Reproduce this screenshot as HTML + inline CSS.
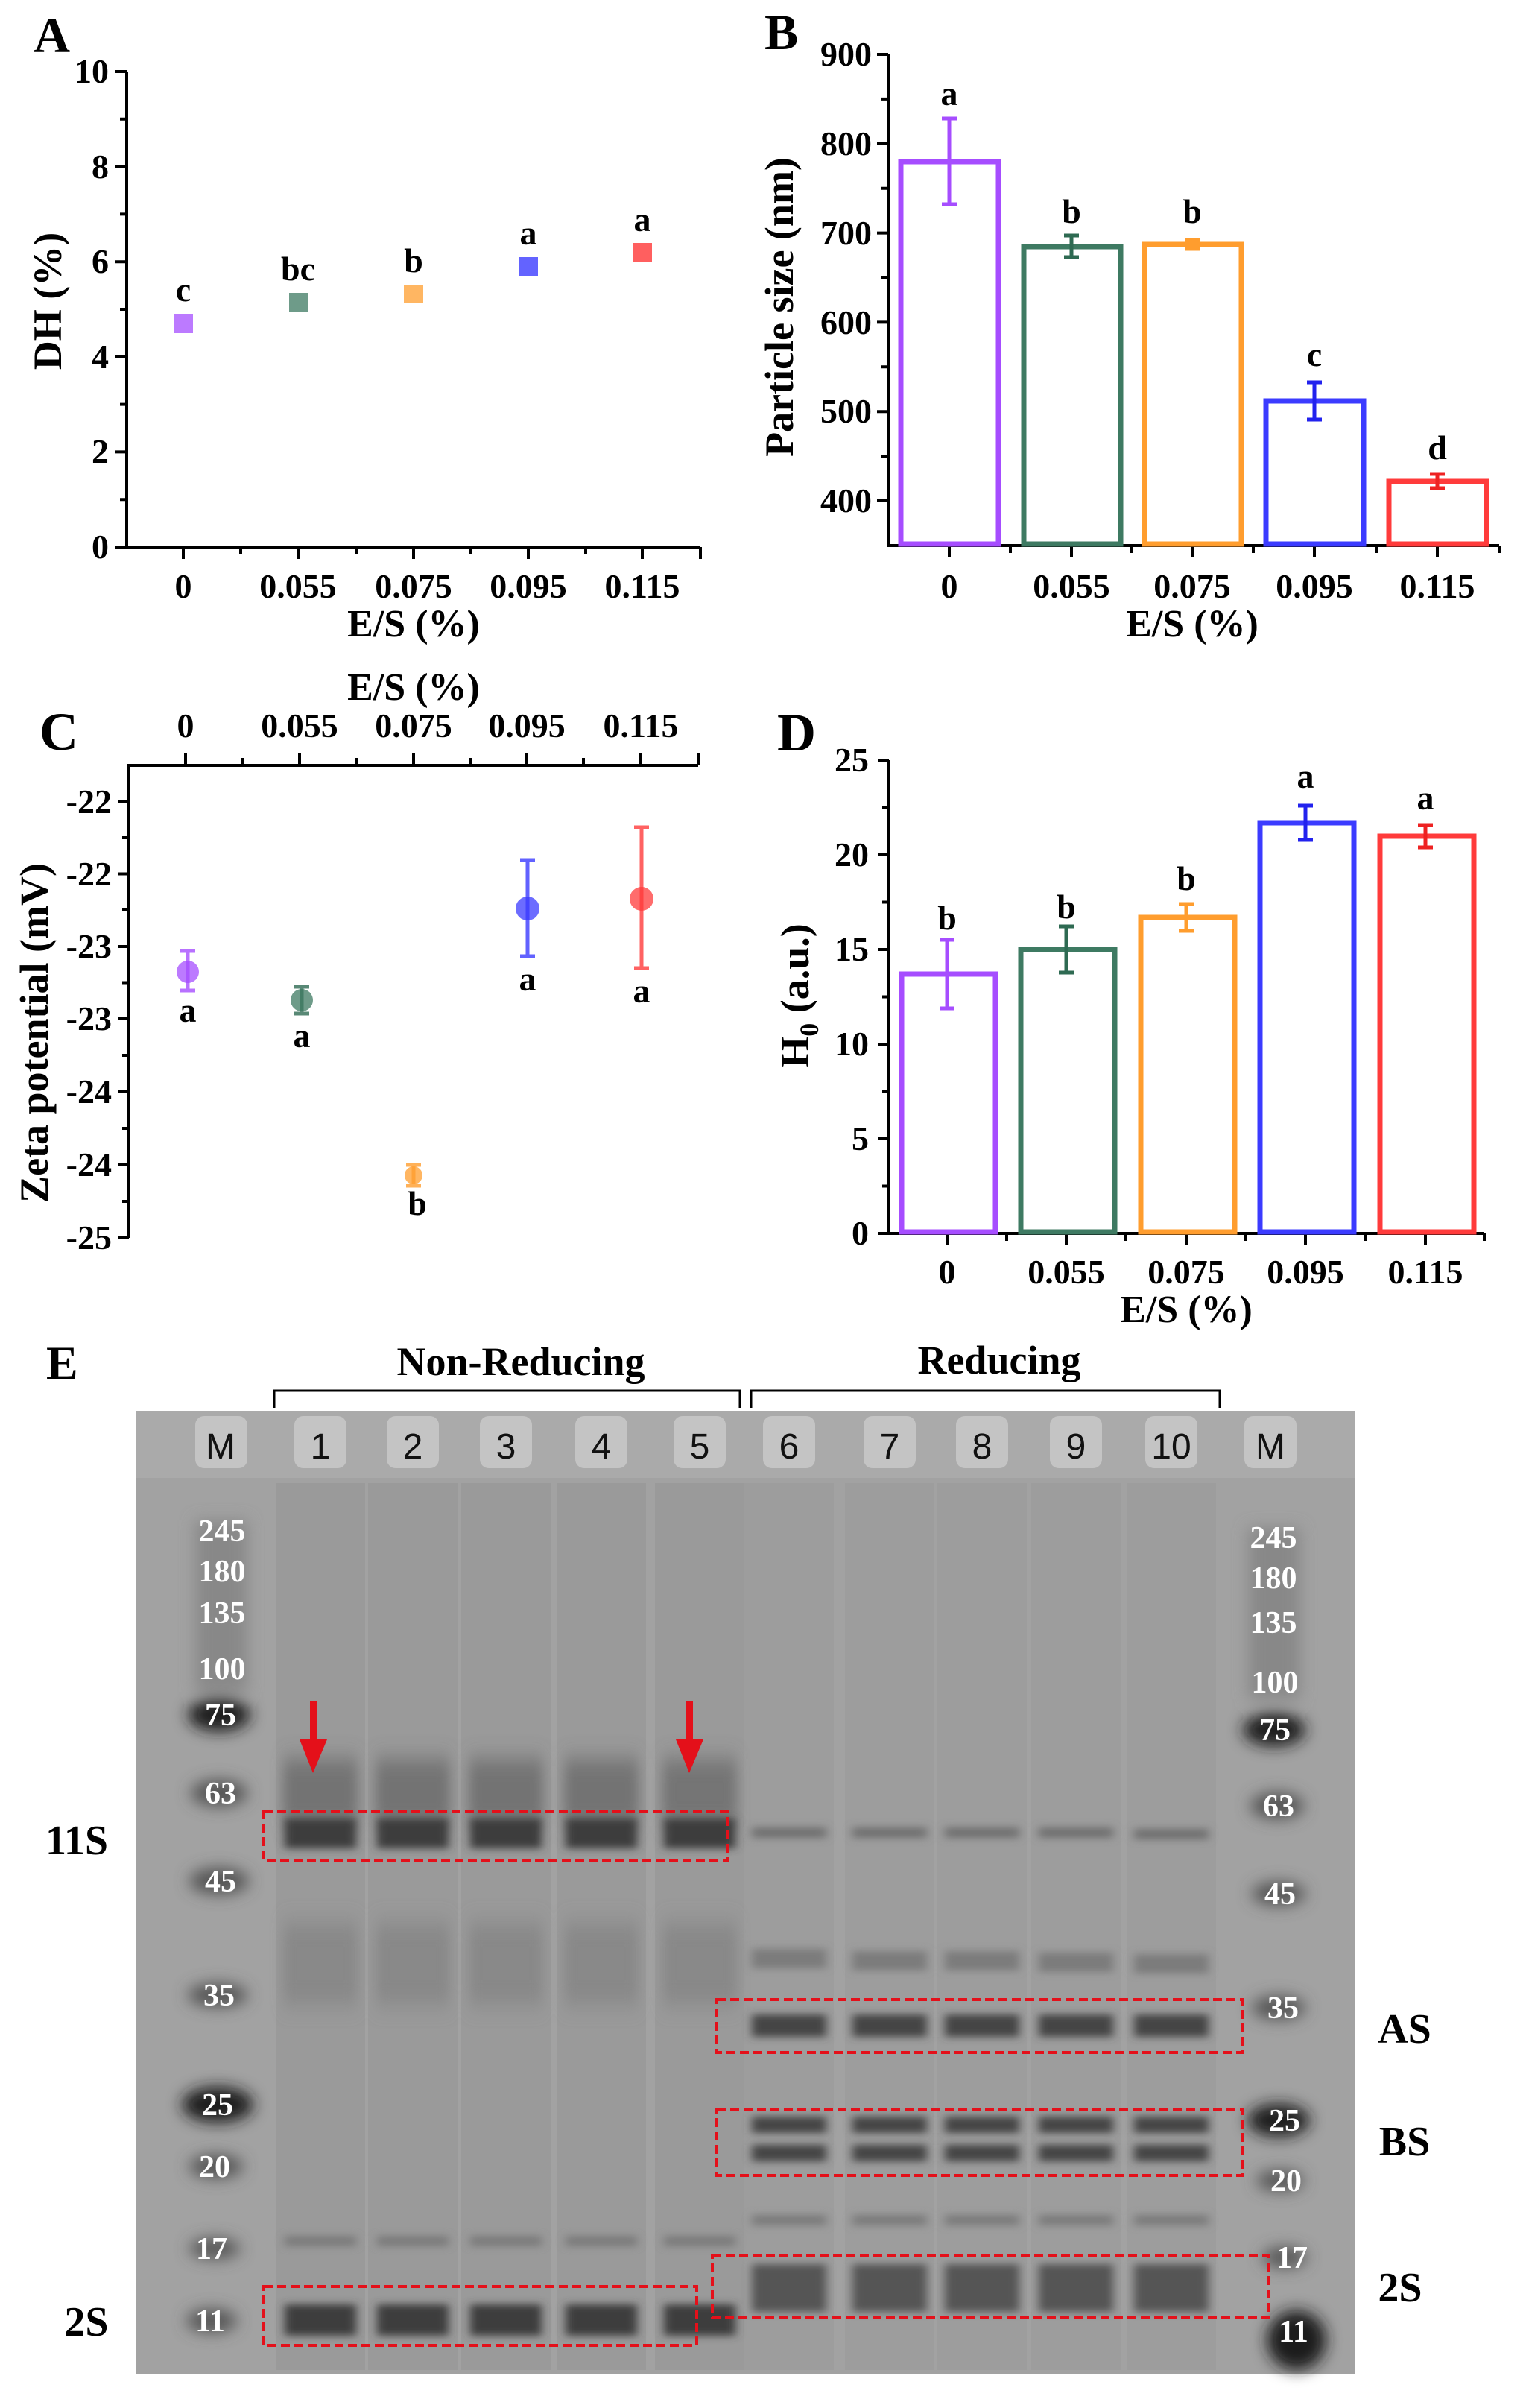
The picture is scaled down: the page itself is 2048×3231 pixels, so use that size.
<!DOCTYPE html>
<html><head><meta charset="utf-8"><style>
html,body{margin:0;padding:0;background:#fff}
svg{display:block}
text{font-family:"Liberation Serif",serif;font-weight:bold}
.sans{font-family:"Liberation Sans",sans-serif;font-weight:normal}
</style></head><body>
<svg width="2048" height="3231" viewBox="0 0 2048 3231" xmlns="http://www.w3.org/2000/svg">
<defs>
<filter id="b1" x="-20%" y="-200%" width="140%" height="500%"><feGaussianBlur stdDeviation="6 5"/></filter>
<filter id="b2" x="-20%" y="-50%" width="140%" height="200%"><feGaussianBlur stdDeviation="8 14"/></filter>
<filter id="b3" x="-20%" y="-20%" width="140%" height="140%"><feGaussianBlur stdDeviation="10"/></filter>
</defs>

<!-- ============ PANEL A ============ -->
<text x="45" y="70" font-size="68">A</text>
<g stroke="#000" stroke-width="4" fill="none">
<path d="M170 96 V734 H940"/>
<path d="M170 96 H155 M170 223.6 H155 M170 351.2 H155 M170 478.8 H155 M170 606.4 H155 M170 734 H155"/>
<path d="M170 159.8 H161 M170 287.4 H161 M170 415 H161 M170 542.6 H161 M170 670.2 H161"/>
<path d="M246 734 V750 M400 734 V750 M555 734 V750 M709 734 V750 M862 734 V750 M940 734 V750"/>
<path d="M323 734 V744 M478 734 V744 M632 734 V744 M786 734 V744"/>
</g>
<g font-size="46" text-anchor="end">
<text x="146" y="111">10</text><text x="146" y="239">8</text><text x="146" y="366">6</text><text x="146" y="494">4</text><text x="146" y="621">2</text><text x="146" y="749">0</text>
</g>
<g font-size="46" text-anchor="middle">
<text x="246" y="802">0</text><text x="400" y="802">0.055</text><text x="555" y="802">0.075</text><text x="709" y="802">0.095</text><text x="862" y="802">0.115</text>
<text x="555" y="854" font-size="52">E/S (%)</text>
</g>
<text transform="translate(82,404) rotate(-90)" font-size="54" text-anchor="middle">DH (%)</text>
<g opacity="0.75">
<rect x="233" y="421" width="26" height="26" fill="#a64dff"/>
<rect x="388" y="393" width="26" height="25" fill="#3e7a62"/>
<rect x="542" y="383" width="26" height="23" fill="#ff9d2e"/>
<rect x="696" y="345" width="26" height="25" fill="#2f2fff"/>
<rect x="849" y="326" width="26" height="25" fill="#ff2a2a"/>
</g>
<g font-size="46" text-anchor="middle">
<text x="246" y="404">c</text><text x="400" y="376">bc</text><text x="555" y="365">b</text><text x="709" y="328">a</text><text x="862" y="310">a</text>
</g>

<!-- ============ PANEL B ============ -->
<text x="1026" y="66" font-size="68">B</text>
<g stroke="#000" stroke-width="4" fill="none">
<path d="M1192 73 V732 H2012"/>
<path d="M1192 73 H1177 M1192 192.8 H1177 M1192 312.6 H1177 M1192 432.4 H1177 M1192 552.2 H1177 M1192 672 H1177"/>
<path d="M1192 132.9 H1183 M1192 252.7 H1183 M1192 372.5 H1183 M1192 492.3 H1183 M1192 612.1 H1183"/>
<path d="M1274 732 V748 M1438 732 V748 M1600 732 V748 M1764 732 V748 M1929 732 V748"/>
<path d="M1356 732 V742 M1519 732 V742 M1682 732 V742 M1847 732 V742 M2012 732 V742"/>
</g>
<g font-size="46" text-anchor="end">
<text x="1170" y="88">900</text><text x="1170" y="208">800</text><text x="1170" y="328">700</text><text x="1170" y="448">600</text><text x="1170" y="567">500</text><text x="1170" y="687">400</text>
</g>
<g font-size="46" text-anchor="middle">
<text x="1274" y="802">0</text><text x="1438" y="802">0.055</text><text x="1600" y="802">0.075</text><text x="1764" y="802">0.095</text><text x="1929" y="802">0.115</text>
<text x="1600" y="854" font-size="52">E/S (%)</text>
</g>
<text transform="translate(1064,412) rotate(-90)" font-size="54" text-anchor="middle">Particle size (nm)</text>
<g fill="none" stroke-width="7">
<rect x="1209" y="217" width="131" height="513" stroke="#a64dff"/>
<rect x="1374" y="331" width="130" height="399" stroke="#3e7a62"/>
<rect x="1536" y="328" width="130" height="402" stroke="#ff9d2e"/>
<rect x="1699" y="538" width="131" height="192" stroke="#3b3bff"/>
<rect x="1864" y="646" width="131" height="84" stroke="#ff3b3b"/>
</g>
<g stroke-width="5" fill="none">
<path d="M1274 159 V274 M1264 159 H1284 M1264 274 H1284" stroke="#a64dff"/>
<path d="M1438 316 V345 M1428 316 H1448 M1428 345 H1448" stroke="#2e6a52"/>
<path d="M1600 322 V334 M1590 322 H1610 M1590 334 H1610" stroke="#ff9d2e"/>
<path d="M1764 513 V563 M1754 513 H1774 M1754 563 H1774" stroke="#2222ee"/>
<path d="M1929 636 V655 M1919 636 H1939 M1919 655 H1939" stroke="#ee2222"/>
</g>
<g font-size="46" text-anchor="middle">
<text x="1274" y="141">a</text><text x="1438" y="299">b</text><text x="1600" y="299">b</text><text x="1764" y="491">c</text><text x="1929" y="616">d</text>
</g>

<!-- ============ PANEL C ============ -->
<text x="53" y="1006" font-size="72">C</text>
<g stroke="#000" stroke-width="4" fill="none">
<path d="M173 1661 V1027 H937"/>
<path d="M173 1075.5 H158 M173 1172.5 H158 M173 1270 H158 M173 1367 H158 M173 1465 H158 M173 1563 H158 M173 1661 H158"/>
<path d="M173 1124 H164 M173 1221 H164 M173 1318.5 H164 M173 1416 H164 M173 1514 H164 M173 1612 H164"/>
<path d="M249 1027 V1011 M402 1027 V1011 M555 1027 V1011 M707 1027 V1011 M860 1027 V1011 M937 1027 V1011"/>
<path d="M326 1027 V1017 M479 1027 V1017 M631 1027 V1017 M783 1027 V1017"/>
</g>
<g font-size="46" text-anchor="end">
<text x="150" y="1091">-22</text><text x="150" y="1188">-22</text><text x="150" y="1285">-23</text><text x="150" y="1382">-23</text><text x="150" y="1480">-24</text><text x="150" y="1578">-24</text><text x="150" y="1676">-25</text>
</g>
<g font-size="46" text-anchor="middle">
<text x="249" y="989">0</text><text x="402" y="989">0.055</text><text x="555" y="989">0.075</text><text x="707" y="989">0.095</text><text x="860" y="989">0.115</text>
<text x="555" y="939" font-size="52">E/S (%)</text>
</g>
<text transform="translate(64,1386) rotate(-90)" font-size="54" text-anchor="middle">Zeta potential (mV)</text>
<g stroke-width="5" fill="none" opacity="0.8">
<path d="M252 1276 V1329 M242 1276 H262 M242 1329 H262" stroke="#a64dff"/>
<path d="M405 1324 V1360 M395 1324 H415 M395 1360 H415" stroke="#2e6a52"/>
<path d="M555 1563 V1591 M545 1563 H565 M545 1591 H565" stroke="#ff9d2e"/>
<path d="M708 1154 V1283 M698 1154 H718 M698 1283 H718" stroke="#3b3bff"/>
<path d="M861 1110 V1299 M851 1110 H871 M851 1299 H871" stroke="#ff3b3b"/>
</g>
<g opacity="0.75">
<circle cx="252" cy="1304" r="15" fill="#a64dff"/>
<circle cx="405" cy="1342" r="15" fill="#3e7a62"/>
<ellipse cx="555" cy="1577" rx="12" ry="12" fill="#ff9d2e"/>
<circle cx="708" cy="1219" r="16" fill="#3b3bff"/>
<circle cx="861" cy="1206" r="16" fill="#ff3b3b"/>
</g>
<g font-size="46" text-anchor="middle">
<text x="252" y="1371">a</text><text x="405" y="1405">a</text><text x="560" y="1630">b</text><text x="708" y="1329">a</text><text x="861" y="1345">a</text>
</g>

<!-- ============ PANEL D ============ -->
<text x="1043" y="1007" font-size="72">D</text>
<g stroke="#000" stroke-width="4" fill="none">
<path d="M1193 1020 V1655 H1992"/>
<path d="M1193 1020 H1178 M1193 1147 H1178 M1193 1274 H1178 M1193 1401 H1178 M1193 1528 H1178 M1193 1655 H1178"/>
<path d="M1193 1083.5 H1184 M1193 1210.5 H1184 M1193 1337.5 H1184 M1193 1464.5 H1184 M1193 1591.5 H1184"/>
<path d="M1271 1655 V1671 M1431 1655 V1671 M1592 1655 V1671 M1752 1655 V1671 M1913 1655 V1671"/>
<path d="M1351 1655 V1665 M1511 1655 V1665 M1672 1655 V1665 M1832 1655 V1665 M1992 1655 V1665"/>
</g>
<g font-size="46" text-anchor="end">
<text x="1166" y="1035">25</text><text x="1166" y="1162">20</text><text x="1166" y="1289">15</text><text x="1166" y="1416">10</text><text x="1166" y="1543">5</text><text x="1166" y="1670">0</text>
</g>
<g font-size="46" text-anchor="middle">
<text x="1271" y="1722">0</text><text x="1431" y="1722">0.055</text><text x="1592" y="1722">0.075</text><text x="1752" y="1722">0.095</text><text x="1913" y="1722">0.115</text>
<text x="1592" y="1774" font-size="52">E/S (%)</text>
</g>
<text transform="translate(1085,1336) rotate(-90)" font-size="54" text-anchor="middle">H<tspan font-size="36" dy="13">0</tspan><tspan dy="-13"> (a.u.)</tspan></text>
<g fill="none" stroke-width="7">
<rect x="1210" y="1307" width="126" height="346" stroke="#a64dff"/>
<rect x="1370" y="1274" width="126" height="379" stroke="#3e7a62"/>
<rect x="1531" y="1231" width="126" height="422" stroke="#ff9d2e"/>
<rect x="1691" y="1104" width="126" height="549" stroke="#3b3bff"/>
<rect x="1852" y="1122" width="126" height="531" stroke="#ff3b3b"/>
</g>
<g stroke-width="5" fill="none">
<path d="M1271 1261 V1353 M1261 1261 H1281 M1261 1353 H1281" stroke="#a64dff"/>
<path d="M1431 1243 V1305 M1421 1243 H1441 M1421 1305 H1441" stroke="#2e6a52"/>
<path d="M1592 1213 V1249 M1582 1213 H1602 M1582 1249 H1602" stroke="#ff9d2e"/>
<path d="M1752 1081 V1127 M1742 1081 H1762 M1742 1127 H1762" stroke="#2222ee"/>
<path d="M1913 1107 V1137 M1903 1107 H1923 M1903 1137 H1923" stroke="#ee2222"/>
</g>
<g font-size="46" text-anchor="middle">
<text x="1271" y="1247">b</text><text x="1431" y="1232">b</text><text x="1592" y="1194">b</text><text x="1752" y="1057">a</text><text x="1913" y="1086">a</text>
</g>

<!-- ============ PANEL E ============ -->
<text x="62" y="1850" font-size="64">E</text>
<text x="699" y="1845" font-size="54" text-anchor="middle">Non-Reducing</text>
<text x="1341" y="1843" font-size="54" text-anchor="middle">Reducing</text>
<path d="M368 1889 V1866 H993 V1889 M1008 1889 V1866 H1637 V1889" stroke="#000" stroke-width="3" fill="none"/>

<rect x="182" y="1893" width="1637" height="1292" fill="#a2a2a2"/>
<rect x="182" y="1893" width="1637" height="90" fill="#aaaaaa"/>
<g fill="#9a9a9a">
<rect x="370" y="1990" width="120" height="1190"/><rect x="494" y="1990" width="120" height="1190"/><rect x="619" y="1990" width="120" height="1190"/><rect x="747" y="1990" width="120" height="1190"/><rect x="879" y="1990" width="120" height="1190"/>
</g>
<g fill="#9d9d9d">
<rect x="999" y="1990" width="120" height="1190"/><rect x="1134" y="1990" width="120" height="1190"/><rect x="1258" y="1990" width="120" height="1190"/><rect x="1384" y="1990" width="120" height="1190"/><rect x="1512" y="1990" width="120" height="1190"/>
</g>
<g fill="#c4c4c4">
<rect x="262" y="1900" width="70" height="70" rx="12"/><rect x="395" y="1900" width="70" height="70" rx="12"/><rect x="519" y="1900" width="70" height="70" rx="12"/><rect x="644" y="1900" width="70" height="70" rx="12"/><rect x="772" y="1900" width="70" height="70" rx="12"/><rect x="904" y="1900" width="70" height="70" rx="12"/><rect x="1024" y="1900" width="70" height="70" rx="12"/><rect x="1159" y="1900" width="70" height="70" rx="12"/><rect x="1283" y="1900" width="70" height="70" rx="12"/><rect x="1409" y="1900" width="70" height="70" rx="12"/><rect x="1537" y="1900" width="70" height="70" rx="12"/><rect x="1670" y="1900" width="70" height="70" rx="12"/>
</g>
<g font-size="48" fill="#111" text-anchor="middle">
<text class="sans" x="296" y="1957">M</text>
<text class="sans" x="430" y="1957">1</text>
<text class="sans" x="554" y="1957">2</text>
<text class="sans" x="679" y="1957">3</text>
<text class="sans" x="807" y="1957">4</text>
<text class="sans" x="939" y="1957">5</text>
<text class="sans" x="1059" y="1957">6</text>
<text class="sans" x="1194" y="1957">7</text>
<text class="sans" x="1318" y="1957">8</text>
<text class="sans" x="1444" y="1957">9</text>
<text class="sans" x="1572" y="1957">10</text>
<text class="sans" x="1705" y="1957">M</text>
</g>

<g filter="url(#b2)">
<g fill="#6a6a6a" opacity="0.8">
<rect x="380" y="2360" width="100" height="90"/><rect x="504" y="2360" width="100" height="90"/><rect x="629" y="2360" width="100" height="90"/><rect x="757" y="2360" width="100" height="90"/><rect x="889" y="2360" width="100" height="90"/>
</g>
<g fill="#858585" opacity="0.8">
<rect x="380" y="2580" width="100" height="110"/><rect x="504" y="2580" width="100" height="110"/><rect x="629" y="2580" width="100" height="110"/><rect x="757" y="2580" width="100" height="110"/><rect x="889" y="2580" width="100" height="110"/>
</g>
</g>
<g filter="url(#b1)">
<g fill="#3e3e3e">
<rect x="382" y="2440" width="96" height="40"/><rect x="506" y="2440" width="96" height="40"/><rect x="631" y="2440" width="96" height="40"/><rect x="759" y="2440" width="96" height="40"/><rect x="891" y="2440" width="96" height="40"/>
<rect x="382" y="3092" width="96" height="42"/><rect x="506" y="3092" width="96" height="42"/><rect x="631" y="3092" width="96" height="42"/><rect x="759" y="3092" width="96" height="42"/><rect x="891" y="3092" width="96" height="42"/>
</g>
<g fill="#7a7a7a">
<rect x="382" y="3000" width="96" height="14"/><rect x="506" y="3000" width="96" height="14"/><rect x="631" y="3000" width="96" height="14"/><rect x="759" y="3000" width="96" height="14"/><rect x="891" y="3000" width="96" height="14"/>
</g>
<g fill="#707070">
<rect x="1009" y="2452" width="100" height="14"/><rect x="1144" y="2452" width="100" height="14"/><rect x="1268" y="2452" width="100" height="14"/><rect x="1394" y="2452" width="100" height="14"/><rect x="1522" y="2454" width="100" height="14"/>
</g>
<g fill="#7c7c7c">
<rect x="1009" y="2615" width="100" height="26"/><rect x="1144" y="2618" width="100" height="26"/><rect x="1268" y="2618" width="100" height="26"/><rect x="1394" y="2620" width="100" height="26"/><rect x="1522" y="2622" width="100" height="26"/>
</g>
<g fill="#444">
<rect x="1009" y="2703" width="100" height="30"/><rect x="1144" y="2703" width="100" height="30"/><rect x="1268" y="2703" width="100" height="30"/><rect x="1394" y="2703" width="100" height="30"/><rect x="1522" y="2703" width="100" height="30"/>
<rect x="1009" y="2840" width="100" height="22"/><rect x="1144" y="2840" width="100" height="22"/><rect x="1268" y="2840" width="100" height="22"/><rect x="1394" y="2840" width="100" height="22"/><rect x="1522" y="2840" width="100" height="22"/>
<rect x="1009" y="2878" width="100" height="22"/><rect x="1144" y="2878" width="100" height="22"/><rect x="1268" y="2878" width="100" height="22"/><rect x="1394" y="2878" width="100" height="22"/><rect x="1522" y="2878" width="100" height="22"/>
</g>
<g fill="#7a7a7a">
<rect x="1009" y="2972" width="100" height="14"/><rect x="1144" y="2972" width="100" height="14"/><rect x="1268" y="2972" width="100" height="14"/><rect x="1394" y="2972" width="100" height="14"/><rect x="1522" y="2972" width="100" height="14"/>
</g>
<g fill="#555">
<rect x="1009" y="3038" width="100" height="64"/><rect x="1144" y="3038" width="100" height="64"/><rect x="1268" y="3038" width="100" height="64"/><rect x="1394" y="3038" width="100" height="64"/><rect x="1522" y="3038" width="100" height="64"/>
</g>
</g>
<g filter="url(#b3)">
<g fill="#888">
<rect x="262" y="2040" width="70" height="230"/><rect x="1675" y="2050" width="70" height="230"/>
</g>
<g fill="#1a1a1a">
<ellipse cx="294" cy="2301" rx="42" ry="22"/><ellipse cx="1710" cy="2321" rx="42" ry="22"/>
<ellipse cx="292" cy="2824" rx="48" ry="24"/><ellipse cx="1716" cy="2845" rx="42" ry="22"/>
<ellipse cx="1740" cy="3140" rx="40" ry="40"/>
</g>
<g fill="#555">
<ellipse cx="294" cy="2406" rx="38" ry="18"/><ellipse cx="294" cy="2524" rx="40" ry="18"/><ellipse cx="292" cy="2677" rx="40" ry="16"/><ellipse cx="290" cy="2907" rx="36" ry="16"/><ellipse cx="288" cy="3017" rx="34" ry="14"/><ellipse cx="284" cy="3114" rx="34" ry="16"/>
<ellipse cx="1714" cy="2423" rx="36" ry="18"/><ellipse cx="1716" cy="2541" rx="36" ry="16"/><ellipse cx="1716" cy="2694" rx="36" ry="16"/><ellipse cx="1718" cy="2926" rx="32" ry="14"/><ellipse cx="1724" cy="3029" rx="30" ry="14"/>
</g>
</g>
<g font-size="42" fill="#fff" text-anchor="middle">
<text x="298" y="2068">245</text><text x="298" y="2122">180</text><text x="298" y="2178">135</text><text x="298" y="2253">100</text><text x="296" y="2315">75</text><text x="296" y="2420">63</text><text x="296" y="2538">45</text><text x="294" y="2691">35</text><text x="292" y="2838">25</text><text x="288" y="2921">20</text><text x="284" y="3031">17</text><text x="282" y="3128">11</text>
<text x="1709" y="2077">245</text><text x="1709" y="2131">180</text><text x="1709" y="2191">135</text><text x="1711" y="2271">100</text><text x="1711" y="2335">75</text><text x="1716" y="2437">63</text><text x="1718" y="2555">45</text><text x="1722" y="2708">35</text><text x="1724" y="2859">25</text><text x="1726" y="2940">20</text><text x="1734" y="3043">17</text><text x="1736" y="3142">11</text>
</g>
<g fill="none" stroke="#e4101a" stroke-width="4" stroke-dasharray="12 6">
<rect x="354" y="2431" width="623" height="66"/>
<rect x="354" y="3068" width="581" height="79"/>
<rect x="962" y="2683" width="706" height="71"/>
<rect x="962" y="2830" width="706" height="89"/>
<rect x="956" y="3027" width="747" height="83"/>
</g>
<g fill="#e4101a">
<rect x="416" y="2282" width="9" height="58"/><path d="M402 2334 H439 L420 2379 Z"/>
<rect x="921" y="2282" width="9" height="58"/><path d="M907 2334 H944 L925 2379 Z"/>
</g>
<g font-size="56" text-anchor="middle">
<text x="103" y="2488">11S</text><text x="116" y="3134">2S</text>
<text x="1885" y="2741">AS</text><text x="1885" y="2892">BS</text><text x="1879" y="3088">2S</text>
</g>
</svg>
</body></html>
